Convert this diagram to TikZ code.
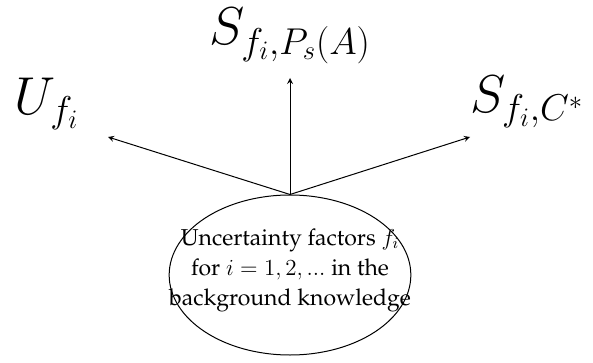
\RequirePackage{fix-cm}
\documentclass[tikz,border=0pt]{standalone}
\usepackage[T1]{fontenc}
\renewcommand{\rmdefault}{ppl}
\usepackage{tikz}
\usetikzlibrary{shapes,arrows,positioning,calc}

\begin{document}
\begin{tikzpicture}[
    x=0.6pt, y=0.6pt,
    >=stealth,
    every node/.style={font=\fontsize{13.8}{18}\selectfont},
    factor/.style={draw, ellipse, semithick, inner sep=0pt, minimum width=145pt, minimum height=96pt},
    quantity/.style={font=\fontsize{32}{36}\selectfont}
]
\useasboundingbox (0,0) rectangle (593,362);

% Background knowledge
\node[factor] (uncert) at (290,87) {};
\node[align=center, inner sep=0pt, yshift=3pt] (knowledge) at (uncert.center) {Uncertainty factors $f_i$\\ for $i=1,2,...$ in the\\ background knowledge};

% Arrow tips
\coordinate (tipU) at (108,225);
\coordinate (tipP) at (290,284);
\coordinate (tipC) at (470,225);

% Labels
\node[quantity] (uf) at (47,258) {$U_{f_i}$};
\node[quantity] (sp) at (290,326) {$S_{f_i,P_s(A)}$};
\node[quantity] (sc) at (527,260) {$S_{f_i,C^*}$};

\draw[->, semithick] (uncert.north) -- (tipU);
\draw[->, semithick] (uncert.north) -- (tipP);
\draw[->, semithick] (uncert.north) -- (tipC);

\end{tikzpicture}
\end{document}
